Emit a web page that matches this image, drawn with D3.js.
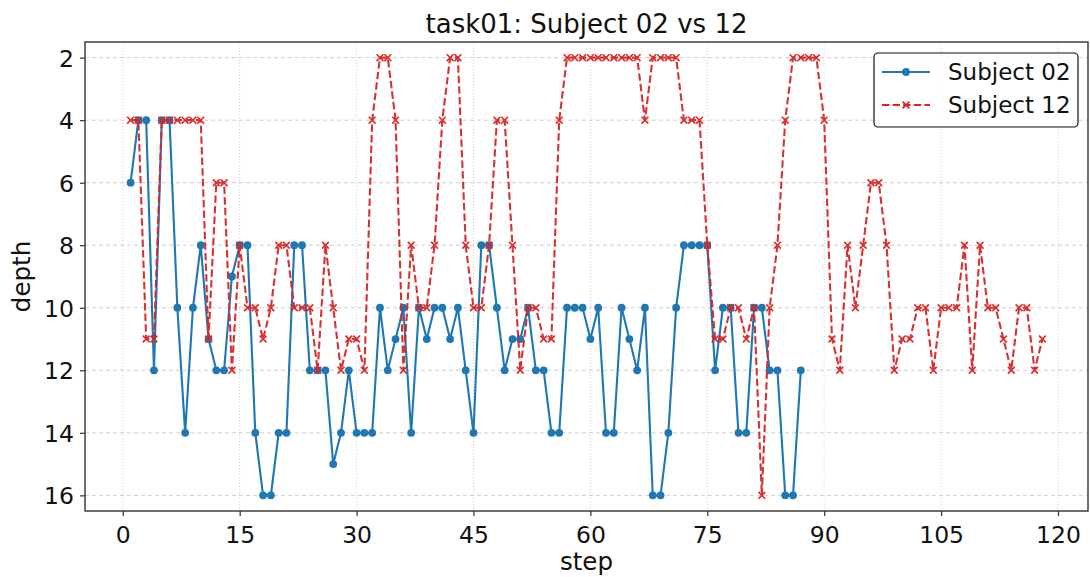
<!DOCTYPE html>
<html>
<head>
<meta charset="utf-8">
<script src="https://cdn.jsdelivr.net/npm/d3@7"></script>
<style>
  html, body { margin: 0; padding: 0; background: #fff; }
  svg { display: block; font-family: "DejaVu Sans", sans-serif; }
</style>
</head>
<body>
<svg id="chart" width="1090" height="577"></svg>
<script>
// ---- Data ----
const subject02 = [6,4,4,12,4,4,10,14,10,8,11,12,12,9,8,8,14,16,16,14,14,8,8,12,12,12,15,14,12,14,14,14,10,12,11,10,14,10,11,10,10,11,10,12,14,8,8,10,12,11,11,10,12,12,14,14,10,10,10,11,10,14,14,10,11,12,10,16,16,14,10,8,8,8,8,12,10,10,14,14,10,10,12,12,16,16,12];
const subject12 = [4,4,11,11,4,4,4,4,4,4,11,6,6,12,8,10,10,11,10,8,8,10,10,10,12,8,10,12,11,11,12,4,2,2,4,12,8,10,10,8,4,2,2,8,10,10,8,4,4,8,12,10,10,11,11,4,2,2,2,2,2,2,2,2,2,2,4,2,2,2,2,4,4,4,8,11,11,10,10,11,10,16,10,8,4,2,2,2,2,4,11,12,8,10,8,6,6,8,12,11,11,10,10,12,10,10,10,8,12,8,10,10,11,12,10,10,12,11];
const xTicks = [0,15,30,45,60,75,90,105,120];
const yTicks = [2,4,6,8,10,12,14,16];
const seriesNames = ["Subject 02", "Subject 12"];
const titleText = "task01: Subject 02 vs 12";

// ---- Layout ----
const svg = d3.select("#chart");
const L = 85, R = 1088, T = 42, B = 511;
const blue = "#1f77b4", red = "#d62728";

const x = d3.scaleLinear().domain([-4.85, 123.85]).range([L, R]);
const y = d3.scaleLinear().domain([1.5, 16.5]).range([T, B]);

// grid
svg.append("g").selectAll("line").data(yTicks).join("line")
  .attr("x1", L).attr("x2", R)
  .attr("y1", d => y(d)).attr("y2", d => y(d))
  .attr("stroke", "#b0b0b0").attr("stroke-opacity", 0.6)
  .attr("stroke-width", 1).attr("stroke-dasharray", "4,3");
svg.append("g").selectAll("line").data(xTicks).join("line")
  .attr("x1", d => x(d)).attr("x2", d => x(d))
  .attr("y1", T).attr("y2", B)
  .attr("stroke", "#b0b0b0").attr("stroke-opacity", 0.6)
  .attr("stroke-width", 1).attr("stroke-dasharray", "1,2");

// axes
const xAxis = d3.axisBottom(x).tickValues(xTicks).tickSize(5).tickPadding(5).tickFormat(d3.format("d"));
const yAxis = d3.axisLeft(y).tickValues(yTicks).tickSize(5).tickPadding(6).tickFormat(d3.format("d"));
const gx = svg.append("g").attr("transform", `translate(0,${B})`).call(xAxis);
const gy = svg.append("g").attr("transform", `translate(${L},0)`).call(yAxis);
[gx, gy].forEach(g => {
  g.select(".domain").remove();
  g.selectAll(".tick line").attr("stroke", "#333").attr("stroke-width", 1.2);
  g.selectAll(".tick text").attr("fill", "#111").style("font-size", "23.5px")
    .style("font-family", "DejaVu Sans, sans-serif");
});
gx.selectAll(".tick text").attr("dy", "0.92em");
gy.selectAll(".tick text").attr("dy", "0.36em");

// frame
svg.append("rect").attr("x", L).attr("y", T).attr("width", R - L).attr("height", B - T)
  .attr("fill", "none").attr("stroke", "#333").attr("stroke-width", 1.4);

// lines
const line = d3.line().x((d, i) => x(i + 1)).y(d => y(d));
svg.append("path").datum(subject02).attr("d", line)
  .attr("fill", "none").attr("stroke", blue).attr("stroke-width", 2.1);
svg.append("g").selectAll("circle").data(subject02).join("circle")
  .attr("cx", (d, i) => x(i + 1)).attr("cy", d => y(d)).attr("r", 3.9).attr("fill", blue);

const redG = svg.append("g").attr("opacity", 0.95);
redG.append("path").datum(subject12).attr("d", line)
  .attr("fill", "none").attr("stroke", red).attr("stroke-width", 2.1).attr("stroke-dasharray", "7.4,3.2");
const xs = 3.4;
redG.selectAll("path.mk").data(subject12).join("path").attr("class", "mk")
  .attr("d", (d, i) => {
    const cx = x(i + 1), cy = y(d);
    return `M${cx - xs},${cy - xs}L${cx + xs},${cy + xs}M${cx - xs},${cy + xs}L${cx + xs},${cy - xs}`;
  })
  .attr("stroke", red).attr("stroke-width", 1.7).attr("fill", "none");

// title & labels
svg.append("text").attr("x", (L + R) / 2).attr("y", 33).attr("text-anchor", "middle")
  .style("font-size", "26px").attr("fill", "#111").text(titleText);
svg.append("text").attr("x", (L + R) / 2).attr("y", 570).attr("text-anchor", "middle")
  .style("font-size", "24.5px").attr("fill", "#111").text("step");
svg.append("text").attr("transform", `translate(30,${(T + B) / 2}) rotate(-90)`)
  .attr("text-anchor", "middle").style("font-size", "24.5px").attr("fill", "#111").text("depth");

// legend
const lg = svg.append("g");
lg.append("rect").attr("x", 874).attr("y", 53).attr("width", 204).attr("height", 74)
  .attr("rx", 4).attr("fill", "#fff").attr("fill-opacity", 0.85)
  .attr("stroke", "#111").attr("stroke-width", 1.2);
const rows = [{name: seriesNames[0], c: blue, dash: null, yy: 72}, {name: seriesNames[1], c: red, dash: "7.4,3.2", yy: 105}];
rows.forEach((r, k) => {
  lg.append("line").attr("x1", 882).attr("x2", 930).attr("y1", r.yy).attr("y2", r.yy)
    .attr("stroke", r.c).attr("stroke-width", 2.1).attr("stroke-dasharray", r.dash);
  if (k === 0) {
    lg.append("circle").attr("cx", 906).attr("cy", r.yy).attr("r", 3.9).attr("fill", r.c);
  } else {
    lg.append("path").attr("d", `M${906 - xs},${r.yy - xs}L${906 + xs},${r.yy + xs}M${906 - xs},${r.yy + xs}L${906 + xs},${r.yy - xs}`)
      .attr("stroke", r.c).attr("stroke-width", 1.7);
  }
  lg.append("text").attr("x", 948).attr("y", r.yy).attr("dy", "0.36em")
    .style("font-size", "23px").attr("fill", "#111").text(r.name);
});
</script>
</body>
</html>
